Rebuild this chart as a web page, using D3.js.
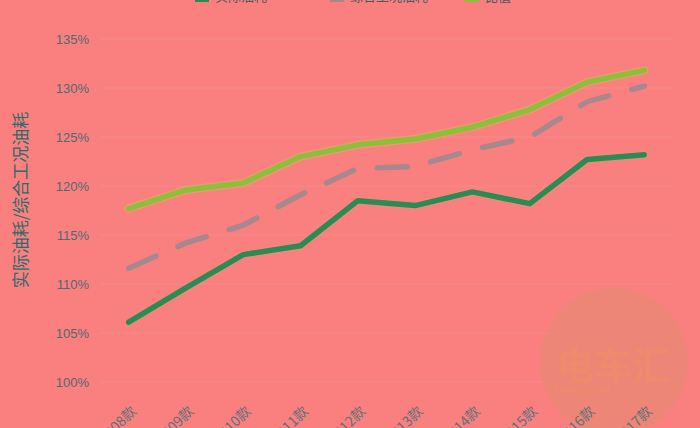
<!DOCTYPE html>
<html><head><meta charset="utf-8">
<script src="https://cdn.jsdelivr.net/npm/d3@7"></script>
<style>html,body{margin:0;padding:0;background:#fa8080;}svg{display:block;}</style>
</head><body><svg id="c" width="700" height="428"></svg>
<script>
const categories = ["2008款","2009款","2010款","2011款","2012款","2013款","2014款","2015款","2016款","2017款"];
const seriesNames = ["实际油耗","综合工况油耗","比值"];
const upperValues = [117.7,119.6,120.3,123.0,124.2,124.8,126.0,127.8,130.6,131.8];
const middleValues = [111.6,114.2,116.0,119.1,121.8,122.0,123.7,125.0,128.6,130.2];
const lowerValues = [106.1,109.6,113.0,113.9,118.5,118.0,119.4,118.2,122.7,123.2];
const yTicks = [100,105,110,115,120,125,130,135];

const svg = d3.select("#c");
const W = 700, H = 428;
const plot = {left:100, right:673, top:39, bottom:382};
svg.append("rect").attr("width",W).attr("height",H).attr("fill","#fa8080");

const x = d3.scalePoint().domain(categories).range([plot.left, plot.right]).padding(0.5);
const y = d3.scaleLinear().domain([100,135]).range([plot.bottom, plot.top]);

// gridlines
svg.append("g").selectAll("line").data(yTicks).join("line")
  .attr("x1",plot.left).attr("x2",plot.right)
  .attr("y1",d=>y(d)).attr("y2",d=>y(d))
  .attr("stroke","#f28c8c").attr("stroke-width",1);

// watermark
const wm = svg.append("g");
wm.append("circle").attr("cx",614).attr("cy",362).attr("r",74).attr("fill","#e58a72").attr("opacity",0.6);
wm.append("text").attr("x",613).attr("y",379).attr("text-anchor","middle")
  .attr("font-family","Noto Sans CJK SC").attr("font-weight","bold").attr("font-size",38)
  .attr("fill","#f08c6c").attr("opacity",0.85).text("电车汇");
wm.append("text").attr("x",553).attr("y",394)
  .attr("font-family","DejaVu Sans").attr("font-weight","bold").attr("font-size",9)
  .attr("fill","#f08c6c").attr("opacity",0.85).text("EVHUI.COM");

// y axis
const yAxis = d3.axisLeft(y).tickValues(yTicks).tickFormat(d=>d+"%").tickSize(0).tickPadding(0);
const gy = svg.append("g").attr("transform",`translate(89,0)`).call(yAxis);
gy.select(".domain").remove();
gy.selectAll("text").attr("font-family","Liberation Sans, Arial").attr("font-size",13).attr("fill","#4e6a72");

// x axis
const xAxis = d3.axisBottom(x).tickSize(0).tickPadding(0);
const gx = svg.append("g").attr("transform",`translate(0,${plot.bottom})`).call(xAxis);
gx.select(".domain").remove();
gx.selectAll("text")
  .attr("font-family","Noto Sans CJK SC").attr("font-size",14).attr("fill","#5f7078")
  .attr("text-anchor","end").attr("dy",0)
  .attr("transform","translate(8,30) rotate(-45)");

// y axis title
svg.append("text").attr("transform","translate(27,200) rotate(-90)")
  .attr("text-anchor","middle").attr("font-family","Noto Sans CJK SC").attr("font-size",17)
  .attr("fill","#2f6a6a").text("实际油耗/综合工况油耗");

const line = d3.line().x((d,i)=>x(categories[i])).y(d=>y(d));

// upper line halo + line
svg.append("path").datum(upperValues).attr("d",line).attr("fill","none")
  .attr("stroke","#e8b060").attr("stroke-width",8).attr("stroke-linejoin","round").attr("stroke-linecap","round").attr("opacity",0.5);
svg.append("path").datum(upperValues).attr("d",line).attr("fill","none")
  .attr("stroke","#8cbf3a").attr("stroke-width",5.5).attr("stroke-linejoin","round").attr("stroke-linecap","round");

svg.append("path").datum(middleValues).attr("d",line).attr("fill","none")
  .attr("stroke","#a6888e").attr("stroke-width",5.5).attr("stroke-dasharray","30,24").attr("stroke-linecap","round");

svg.append("path").datum(lowerValues).attr("d",line).attr("fill","none")
  .attr("stroke","#d9a060").attr("stroke-width",7.5).attr("stroke-linejoin","round").attr("stroke-linecap","round").attr("opacity",0.4);
svg.append("path").datum(lowerValues).attr("d",line).attr("fill","none")
  .attr("stroke","#2b8a55").attr("stroke-width",5.5).attr("stroke-linejoin","round").attr("stroke-linecap","round");

// legend (cut off at top, as in the reference)
const leg = svg.append("g").attr("font-family","Noto Sans CJK SC").attr("font-size",13);
const legColors = ["#2b8a55","#a6888e","#8cbf3a"];
const legX = [195, 330, 465];
seriesNames.forEach((n,i)=>{
  leg.append("rect").attr("x",legX[i]).attr("y",-7).attr("width",14).attr("height",9).attr("fill",legColors[i]);
  leg.append("text").attr("x",legX[i]+20).attr("y",1).attr("fill","#4e5a60").text(n);
});
</script></body></html>
